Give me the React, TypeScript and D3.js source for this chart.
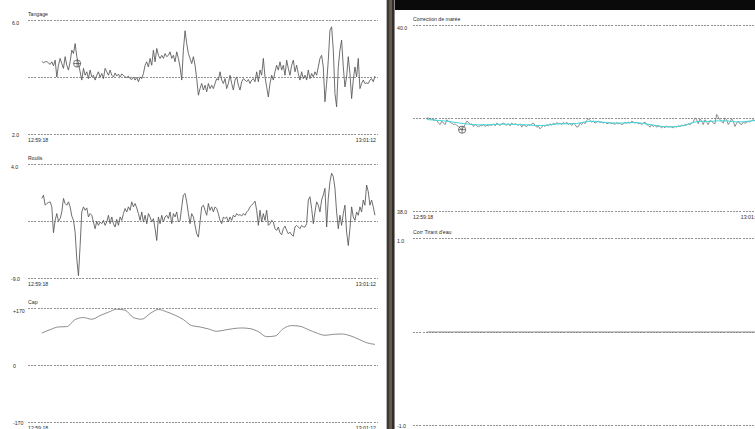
import React from "react";
import * as d3 from "d3";

// ---- time axis ----
const START = new Date(2000, 0, 1, 12, 59, 18);
const END = new Date(2000, 0, 1, 13, 1, 12);
const SAMPLE_FIRST_S = 4.5;
const SAMPLE_LAST_S = 113;

// ---- series ----
const tangage = [
  4.57, 4.52, 4.55, 4.56, 4.51, 4.46, 4.55, 4.41, 4.61, 4.02,
  4.43, 4.67, 4.49, 4.32, 4.73, 4.43, 4.26, 4.55, 4.96, 4.84,
  5.19, 4.73, 4.49, 4.2, 3.91, 4.32, 4.08, 4.2, 3.96, 4.26,
  4.02, 4.08, 3.91, 4.08, 4.2, 4.0, 4.14, 3.96, 4.32, 4.2,
  4.08, 4.26, 4.08, 4.02, 4.16, 4.05, 4.12, 4.02, 4.12, 4.08,
  4.02, 4.0, 4.05, 3.96, 3.93, 4.02, 3.91, 4.0, 3.85, 4.02,
  3.96, 4.14, 4.43, 4.55, 4.37, 4.67, 4.43, 4.96, 4.55, 5.02,
  4.78, 4.67, 4.78, 4.67, 4.84, 4.73, 4.78, 4.9, 4.67, 4.78,
  4.55, 4.9, 4.67, 4.37, 3.91, 4.96, 5.64, 5.19, 4.84, 4.67,
  4.49, 4.73, 4.43, 3.96, 3.38, 3.61, 3.79, 3.56, 3.73, 3.5,
  3.79, 3.61, 3.73, 3.61, 3.79, 3.96, 3.91, 4.2, 3.91, 3.79,
  3.96, 3.61, 3.79, 4.08, 3.79, 3.56, 3.91, 4.02, 3.73, 3.56,
  3.85, 3.96, 3.91, 3.85, 3.93, 3.79, 3.91, 3.96, 3.85, 4.2,
  3.85, 4.26, 4.08, 4.67, 4.02, 3.67, 3.32, 3.79, 4.08, 3.91,
  4.2, 4.43, 4.26, 4.55, 4.26, 4.43, 4.08, 4.61, 4.32, 4.08,
  4.43, 4.61, 4.2, 4.43, 4.14, 3.91, 4.2, 3.96, 4.08, 3.91,
  4.26, 3.96, 4.14, 4.02, 4.2, 4.08, 4.37, 4.67, 4.78, 4.37,
  3.15, 3.79, 4.61, 5.66, 5.78, 4.96, 3.44, 2.97, 4.37, 4.96,
  5.31, 4.37, 3.67, 4.02, 4.73, 4.14, 3.26, 3.91, 4.37, 4.02,
  4.67, 3.61, 3.79, 3.91, 3.79, 3.81, 3.79, 3.91, 3.96, 3.85,
  4.05,
];

const roulis = [
  0.13, 0.51, -0.64, -0.45, -0.33, -0.26, -0.83, -3.78, -2.37, -1.6,
  -2.48, -2.17, -1.41, 0.13, -0.45, -0.64, -0.26, -0.83, -1.87, -2.37,
  -3.71, -6.78, -8.69, -5.24, -1.41, -0.83, -1.22, -0.95, -1.98, -1.6,
  -1.79, -2.56, -3.32, -2.48, -2.94, -2.56, -2.75, -2.37, -2.94, -2.56,
  -1.79, -2.75, -1.98, -2.75, -3.13, -2.25, -2.94, -1.98, -2.37, -1.6,
  -1.02, -1.41, -0.83, -1.22, -0.26, -0.83, -0.45, -0.95, -1.6, -2.37,
  -1.41, -2.56, -1.79, -2.75, -1.6, -1.98, -2.56, -2.17, -3.32, -4.67,
  -1.98, -2.75, -1.79, -2.56, -1.98, -1.79, -2.17, -1.41, -2.75, -1.6,
  -1.98, -1.41, -2.56, -2.37, -0.83, 0.51, 0.7, -0.26, -1.6, -2.75,
  -1.6, -1.98, -2.94, -3.9, -4.28, -2.56, -0.83, -0.64, -1.22, -1.79,
  -0.45, -1.22, -0.83, -1.41, -0.83, -1.02, -1.6, -2.37, -2.75, -1.98,
  -2.17, -1.98, -2.56, -1.98, -2.37, -1.79, -1.98, -1.6, -1.79, -1.71,
  -1.87, -1.6, -1.79, -1.41, -1.22, -0.83, -0.64, -0.45, -0.18, -1.22,
  -2.94, -1.22, -2.56, -1.6, -2.37, -1.22, -2.94, -2.75, -2.37, -2.56,
  -3.32, -3.52, -3.13, -3.78, -4.01, -3.32, -3.02, -3.52, -3.9, -3.71,
  -4.01, -4.17, -3.13, -2.94, -3.13, -3.32, -2.94, -3.13, -3.13, -2.75,
  -0.06, 0.32, -1.02, -2.75, -1.41, -0.26, -0.64, -1.41, -0.06, 0.51,
  1.28, -3.13, 0.13, 2.04, 3.0, 2.62, 1.28, -1.41, -3.32, -1.79,
  -2.94, -1.6, -0.64, -3.71, -5.24, -3.32, -0.83, -1.98, -2.37, -1.41,
  -1.79, -0.83, -1.41, -0.06, -0.64, 1.66, 0.89, -0.64, -0.06, -0.83,
  -1.79,
];

const cap = [
  97, 107, 115, 116, 137, 143, 138, 149, 159, 168,
  165, 143, 138, 155, 167, 160, 150, 137, 119, 115,
  109, 102, 106, 110, 112, 110, 101, 86, 88, 110,
  119, 117, 107, 97, 90, 93, 94, 89, 79, 68,
  63,
];

const maree = [
  39.007, 39.004, 38.996, 38.993, 38.986, 38.982, 38.978, 38.95, 38.935, 38.971,
  38.95, 38.935, 38.986, 38.971, 38.961, 38.95, 38.935, 38.943, 38.925, 38.914,
  38.9, 38.878, 38.907, 38.935, 38.971, 38.961, 38.935, 38.943, 38.914, 38.935,
  38.925, 38.907, 38.928, 38.921, 38.935, 38.914, 38.928, 38.921, 38.935, 38.925,
  38.943, 38.921, 38.95, 38.935, 38.925, 38.943, 38.95, 38.935, 38.928, 38.943,
  38.921, 38.95, 38.935, 38.943, 38.935, 38.925, 38.943, 38.907, 38.935, 38.921,
  38.914, 38.935, 38.925, 38.943, 38.95, 38.928, 38.907, 38.914, 38.889, 38.907,
  38.928, 38.914, 38.935, 38.921, 38.943, 38.928, 38.95, 38.935, 38.957, 38.943,
  38.95, 38.935, 38.957, 38.943, 38.961, 38.935, 38.95, 38.925, 38.95, 38.935,
  38.907, 38.914, 38.95, 38.935, 38.961, 38.943, 38.978, 38.996, 38.978, 38.961,
  38.971, 38.95, 38.961, 38.971, 38.957, 38.964, 38.95, 38.961, 38.943, 38.95,
  38.957, 38.943, 38.95, 38.935, 38.957, 38.943, 38.95, 38.935, 38.943, 38.957,
  38.95, 38.961, 38.95, 38.971, 38.961, 38.95, 38.961, 38.943, 38.95, 38.935,
  38.95, 38.961, 38.935, 38.925, 38.907, 38.935, 38.914, 38.928, 38.907, 38.921,
  38.914, 38.9, 38.914, 38.9, 38.921, 38.907, 38.914, 38.907, 38.9, 38.914,
  38.907, 38.921, 38.914, 38.928, 38.921, 38.935, 38.928, 38.943, 38.935, 38.95,
  38.961, 39.007, 38.986, 38.943, 38.996, 38.971, 38.935, 38.986, 38.961, 38.935,
  38.978, 38.971, 38.95, 38.943, 39.043, 39.014, 38.986, 38.971, 38.95, 39.007,
  38.986, 38.935, 38.961, 38.996, 38.971, 38.914, 38.95, 38.971, 38.943, 38.935,
  38.961, 38.95, 38.957, 38.971, 38.961, 38.978, 38.986, 38.978, 38.975, 38.97,
  38.98,
];

const mareeFiltre = [
  38.989, 38.982, 38.975, 38.964, 38.95, 38.939, 38.932, 38.932, 38.935, 38.939,
  38.939, 38.935, 38.932, 38.925, 38.925, 38.935, 38.943, 38.943, 38.946, 38.964,
  38.971, 38.961, 38.953, 38.95, 38.953, 38.957, 38.946, 38.932, 38.918, 38.91,
  38.914, 38.928, 38.957, 38.971, 38.968, 38.975, 38.975, 38.964, 38.964, 38.975,
  38.978,
];

const tirant = [0, 0, 0, 0, 0];

const cursorSeconds = 16;
const tangageCursor = 4.49;
const mareeCursor = 38.88;

// ---- helpers ----
function sampleTimes(n: number): Date[] {
  const out: Date[] = [];
  for (let i = 0; i < n; i++) {
    const s = SAMPLE_FIRST_S + (i * (SAMPLE_LAST_S - SAMPLE_FIRST_S)) / (n - 1);
    out.push(new Date(START.getTime() + s * 1000));
  }
  return out;
}

const FONT = "'Liberation Sans', Arial, sans-serif";
const FS = 5.2;
const TEXT = "#2a2a2a";
const fmt = d3.timeFormat("%H:%M:%S");

type Series = { values: number[]; color: string; width: number; curve: any };
type PanelDef = {
  title: string;
  xRange: [number, number];
  labelX: number;
  top: number;
  bottom: number;
  domain: [number, number];
  grid: number[];
  yLabels: [number, string][];
  series: Series[];
  cursor?: number;
};

const LEFT: [number, number] = [28, 378];
const RIGHT: [number, number] = [413, 763];

const panels: PanelDef[] = [
  {
    title: "Tangage", xRange: LEFT, labelX: 12, top: 20.5, bottom: 134.5,
    domain: [2, 6], grid: [6, 4, 2], yLabels: [[6, "6.0"], [2, "2.0"]],
    series: [{ values: tangage, color: "#555", width: 0.85, curve: d3.curveLinear }],
    cursor: tangageCursor,
  },
  {
    title: "Roulis", xRange: LEFT, labelX: 11, top: 164.5, bottom: 278.5,
    domain: [-9, 4], grid: [4, -2.5, -9], yLabels: [[4, "4.0"], [-9, "-9.0"]],
    series: [{ values: roulis, color: "#555", width: 0.85, curve: d3.curveLinear }],
  },
  {
    title: "Cap", xRange: LEFT, labelX: 13, top: 308.5, bottom: 422.5,
    domain: [-170, 170], grid: [170, 0, -170], yLabels: [[170, "+170"], [0, "0"], [-170, "-170"]],
    series: [{ values: cap, color: "#7a7a7a", width: 0.85, curve: d3.curveMonotoneX }],
  },
  {
    title: "Correction de marée", xRange: RIGHT, labelX: 397, top: 25.5, bottom: 211.5,
    domain: [38, 40], grid: [40, 39, 38], yLabels: [[40, "40.0"], [38, "38.0"]],
    series: [
      { values: maree, color: "#707070", width: 0.8, curve: d3.curveLinear },
      { values: mareeFiltre, color: "#3fd8dc", width: 1, curve: d3.curveMonotoneX },
    ],
    cursor: mareeCursor,
  },
  {
    title: "Corr Tirant d'eau", xRange: RIGHT, labelX: 397, top: 238.5, bottom: 425.5,
    domain: [-1, 1], grid: [1, 0, -1], yLabels: [[1, "1.0"], [-1, "-1.0"]],
    series: [{ values: tirant, color: "#8a8a8a", width: 1, curve: d3.curveLinear }],
  },
];

function Panel({ p }: { p: PanelDef }) {
  const x = d3.scaleTime().domain([START, END]).range(p.xRange);
  const y = d3.scaleLinear().domain(p.domain).range([p.bottom, p.top]);
  const [x0, x1] = p.xRange;
  return (
    <g>
      <text x={x0} y={p.top - 4.5} fontSize={FS} fontFamily={FONT} fill={TEXT}>{p.title}</text>
      {p.grid.map((v, i) => (
        <line key={i} x1={x0} x2={x1} y1={y(v)} y2={y(v)} stroke="#777" strokeWidth={0.8}
          strokeDasharray="2,1.2" shapeRendering="crispEdges" />
      ))}
      {p.yLabels.map(([v, t], i) => (
        <text key={i} x={p.labelX} y={y(v) + (i === 0 ? 4.5 : 2)} fontSize={FS} fontFamily={FONT} fill={TEXT}>{t}</text>
      ))}
      {p.series.map((s, i) => {
        const times = sampleTimes(s.values.length);
        const line = d3.line<number>()
          .x((_, j) => x(times[j]))
          .y((d) => y(d))
          .curve(s.curve);
        return <path key={i} d={line(s.values) || ""} fill="none" stroke={s.color} strokeWidth={s.width} strokeLinejoin="round" />;
      })}
      {p.cursor !== undefined && (() => {
        const cx = x(new Date(START.getTime() + cursorSeconds * 1000));
        const cy = y(p.cursor as number);
        return (
          <g stroke="#444" strokeWidth={0.7} fill="none">
            <circle cx={cx} cy={cy} r={3.6} />
            <line x1={cx - 3.6} x2={cx + 3.6} y1={cy} y2={cy} />
            <line x1={cx} x2={cx} y1={cy - 3.6} y2={cy + 3.6} />
          </g>
        );
      })()}
      <text x={x0} y={p.bottom + 7.5} fontSize={FS} fontFamily={FONT} fill={TEXT}>{fmt(START)}</text>
      <text x={x1 - 2} y={p.bottom + 7.5} fontSize={FS} fontFamily={FONT} fill={TEXT} textAnchor="end">{fmt(END)}</text>
    </g>
  );
}

export default function App() {
  return (
    <svg width={755} height={429} style={{ position: "absolute", left: 0, top: 0, background: "#fff" }}>
      <rect x={0} y={0} width={755} height={429} fill="#fff" />
      {panels.map((p, i) => <Panel key={i} p={p} />)}
      {/* window divider */}
      <rect x={386} y={0} width={1} height={429} fill="#b5b5b5" />
      <rect x={387} y={0} width={2} height={429} fill="#3a3a3a" />
      <rect x={389} y={0} width={1} height={429} fill="#5e5650" />
      <rect x={390} y={0} width={2} height={429} fill="#6e5a44" />
      <rect x={392} y={0} width={2} height={429} fill="#2e2e2e" />
      <rect x={394} y={0} width={1} height={429} fill="#8a8a8a" />
      <rect x={395} y={0} width={360} height={10} fill="#0a0a0a" />
    </svg>
  );
}
